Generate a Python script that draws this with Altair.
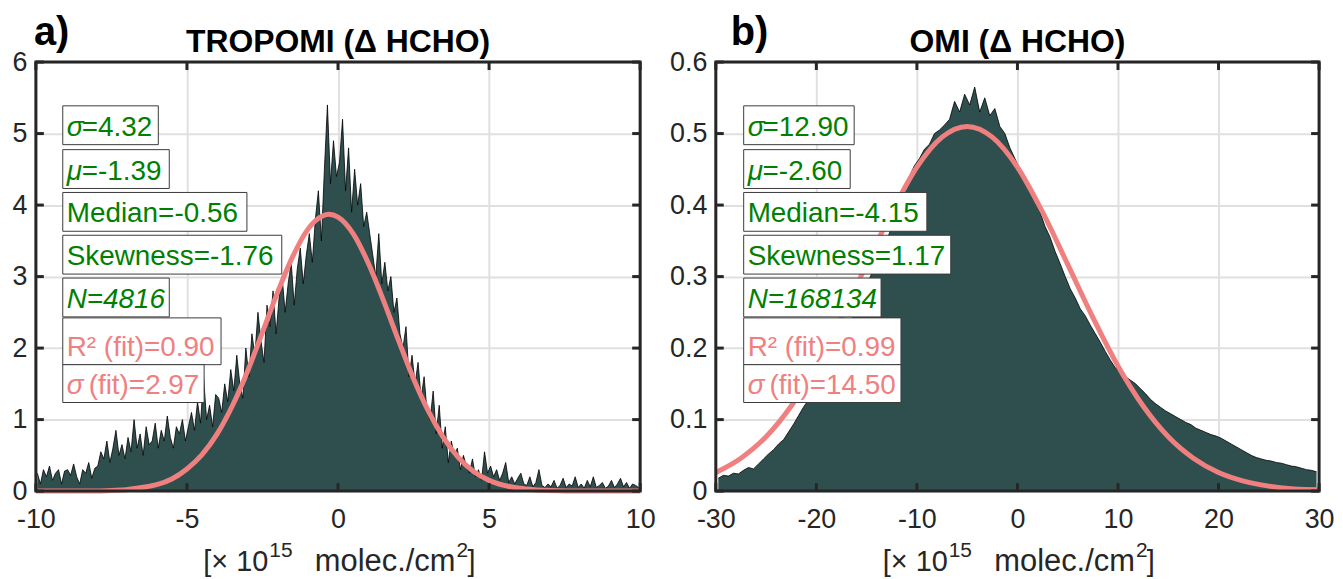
import altair as alt
import numpy as np
import pandas as pd

FONT = "Liberation Sans"
GREEN = "#008000"
PINK = "#F08080"
FILL = "#2F4F4F"
FRAME = "#262626"

W_A, W_B, H = 607, 606, 431

# ---------------- data ----------------
tropomi_bin_start = -10.0
tropomi_bin_width = 0.1
tropomi_counts = [
    0.25, 0.10, 0.30, 0.20, 0.35, 0.15, 0.25, 0.30, 0.10, 0.28,
    0.30, 0.22, 0.38, 0.20, 0.10, 0.30, 0.25, 0.40, 0.18, 0.32,
    0.35, 0.55, 0.45, 0.70, 0.40, 0.60, 0.85, 0.50, 0.65, 0.45,
    0.75, 0.55, 1.00, 0.60, 0.80, 0.50, 0.90, 0.65, 0.70, 0.95,
    0.60, 0.85, 0.70, 1.05, 0.75, 0.60, 0.90, 0.80, 1.00, 0.70,
    0.90, 1.10, 0.85, 1.25, 0.95, 1.60, 1.00, 1.20, 0.90, 1.35,
    1.30, 1.10, 1.50, 1.25, 1.70, 1.40, 1.90, 1.50, 1.30, 2.00,
    1.60, 2.20, 1.90, 2.50, 2.10, 1.80, 2.60, 2.30, 2.80, 2.20,
    2.70, 3.00, 2.50, 2.90, 3.20, 2.60, 3.10, 3.40, 2.90, 3.30,
    3.60, 3.20, 3.80, 4.20, 3.50, 4.50, 5.40, 4.30, 4.90, 4.40,
    4.60, 5.20, 4.20, 4.80, 3.90, 4.50, 4.00, 4.30, 3.70, 3.90,
    3.60, 3.30, 3.00, 3.60, 2.90, 3.20, 2.80, 3.00, 2.50, 2.70,
    2.20, 2.00, 2.30, 1.60, 1.90, 1.50, 1.80, 1.30, 1.60, 1.10,
    1.00, 1.40, 0.80, 1.20, 0.60, 0.90, 0.40, 0.70, 0.50, 0.60,
    0.30, 0.50, 0.35, 0.25, 0.45, 0.20, 0.30, 0.15, 0.55, 0.25,
    0.35, 0.20, 0.30, 0.15, 0.25, 0.40, 0.12, 0.20, 0.10, 0.18,
    0.25, 0.10, 0.08, 0.20, 0.06, 0.12, 0.30, 0.08, 0.05, 0.10,
    0.06, 0.15, 0.04, 0.08, 0.18, 0.05, 0.10, 0.07, 0.20, 0.05,
    0.10, 0.04, 0.15, 0.06, 0.20, 0.05, 0.08, 0.12, 0.04, 0.07,
    0.15, 0.05, 0.10, 0.18, 0.06, 0.12, 0.04, 0.10, 0.08, 0.05,
]
omi_bin_start = -30.0
omi_bin_width = 0.5
omi_counts = [
    0.018, 0.022, 0.021, 0.025, 0.024, 0.029, 0.033, 0.031, 0.038, 0.045,
    0.052, 0.058, 0.066, 0.072, 0.083, 0.094, 0.106, 0.118, 0.128, 0.142,
    0.152, 0.166, 0.178, 0.192, 0.204, 0.218, 0.232, 0.248, 0.262, 0.280,
    0.296, 0.312, 0.330, 0.345, 0.360, 0.380, 0.400, 0.425, 0.440, 0.455,
    0.465, 0.478, 0.485, 0.500, 0.505, 0.512, 0.520, 0.545, 0.530, 0.555,
    0.540, 0.565, 0.530, 0.550, 0.525, 0.535, 0.510, 0.500, 0.480, 0.465,
    0.450, 0.440, 0.425, 0.405, 0.390, 0.370, 0.355, 0.335, 0.318, 0.300,
    0.283, 0.270, 0.255, 0.245, 0.232, 0.220, 0.208, 0.195, 0.183, 0.172,
    0.168, 0.160, 0.155, 0.150, 0.143, 0.136, 0.128, 0.122, 0.117, 0.112,
    0.108, 0.104, 0.100, 0.096, 0.093, 0.088, 0.085, 0.082, 0.079, 0.077,
    0.074, 0.070, 0.066, 0.062, 0.058, 0.054, 0.050, 0.047, 0.045, 0.043,
    0.042, 0.040, 0.039, 0.037, 0.035, 0.034, 0.032, 0.030, 0.029, 0.027,
]
tropomi_fit_x = [-10, -9, -8, -7.5, -7, -6.5, -6, -5.5, -5, -4.5, -4, -3.5, -3, -2.5,
                 -2, -1.5, -1, -0.5, -0.3, 0, 0.5, 1, 1.5, 2, 2.5, 3, 3.5, 4, 4.5,
                 5, 5.5, 6, 6.5, 7, 8, 9, 10]
tropomi_fit_y = [0, 0, 0, 0.01, 0.02, 0.05, 0.09, 0.17, 0.31, 0.51, 0.80, 1.19, 1.67, 2.22,
                 2.78, 3.28, 3.66, 3.85, 3.87, 3.83, 3.60, 3.19, 2.67, 2.11, 1.57, 1.11, 0.74,
                 0.46, 0.27, 0.15, 0.08, 0.04, 0.02, 0.01, 0, 0, 0]
omi_fit_x = [-30, -27.5, -25, -22.5, -20, -17.5, -15, -12.5, -10, -7.5, -5, -2.5, 0,
             2.5, 5, 7.5, 10, 12.5, 15, 17.5, 20, 22.5, 25, 27.5, 30]
omi_fit_y = [0.026, 0.046, 0.076, 0.119, 0.175, 0.243, 0.317, 0.390, 0.453, 0.495, 0.510,
             0.495, 0.453, 0.390, 0.317, 0.243, 0.175, 0.119, 0.076, 0.046, 0.026, 0.014,
             0.007, 0.003, 0.002]

tropomi_xticks = [-10, -5, 0, 5, 10]
tropomi_yticks = [0, 1, 2, 3, 4, 5, 6]
omi_xticks = [-30, -20, -10, 0, 10, 20, 30]
omi_yticks = [0, 0.1, 0.2, 0.3, 0.4, 0.5, 0.6]

# stats text: (italic symbol, rest, all italic)
tropomi_stats = [("σ", "=4.32", False), ("μ", "=-1.39", False), ("", "Median=-0.56", False),
                 ("", "Skewness=-1.76", False), ("", "N=4816", True),
                 ("", "R² (fit)=0.90", False), ("σ", "(fit)=2.97", False)]
omi_stats = [("σ", "=12.90", False), ("μ", "=-2.60", False), ("", "Median=-4.15", False),
             ("", "Skewness=1.17", False), ("", "N=168134", True),
             ("", "R² (fit)=0.99", False), ("σ", "(fit)=14.50", False)]
stat_colors = [GREEN, GREEN, GREEN, GREEN, GREEN, PINK, PINK]

# box layout in pixels relative to the plot area: (x0, x1, y0, y1)
tropomi_boxes = [(27, 123, 44, 83), (27, 134, 88, 127), (27, 212, 131, 170),
                 (27, 247, 174, 213), (27, 134, 217, 256), (27, 186, 257, 304),
                 (27, 169, 304, 342)]
omi_boxes = [(28, 139, 44, 83), (28, 135, 88, 127), (28, 212, 131, 170),
             (28, 236, 174, 213), (28, 166, 217, 256), (28, 186, 257, 304),
             (28, 186, 304, 342)]


def panel(letter, title, counts, start, bw, fit_x, fit_y, xticks, yticks,
          xdom, ydom, W, stats, boxes, letter_dx):
    xs = alt.Scale(domain=xdom, nice=False, zero=False)
    ys = alt.Scale(domain=ydom, nice=False, zero=False)

    def px2x(p):
        return xdom[0] + p * (xdom[1] - xdom[0]) / W

    def py2y(p):
        return ydom[1] - p * (ydom[1] - ydom[0]) / H

    centers = start + bw * (np.arange(len(counts)) + 0.5)
    hist_df = pd.DataFrame({"x": centers, "c": counts})
    fit_df = pd.DataFrame({"x": fit_x, "y": fit_y})

    axis_x = alt.Axis(values=xticks, labelExpr="'' + datum.value", grid=True,
                      gridColor="#e0e0e0", gridWidth=2, ticks=False, tickSize=0,
                      domain=False, labelFontSize=27, labelFont=FONT, labelColor=FRAME,
                      labelPadding=16, labelOverlap=False, labelFlush=False, title=None)
    axis_y = alt.Axis(values=yticks, labelExpr="'' + datum.value", grid=True,
                      gridColor="#e0e0e0", gridWidth=2, ticks=False, tickSize=0,
                      domain=False, labelFontSize=27, labelFont=FONT, labelColor=FRAME,
                      labelPadding=9, labelOverlap=False, title=None)

    def X(f):
        return alt.X(f, scale=xs, axis=axis_x)

    def Y(f):
        return alt.Y(f, scale=ys, axis=axis_y)

    hist = alt.Chart(hist_df).mark_area(
        color=FILL, opacity=1, clip=True, line={"color": "black", "strokeWidth": 0.8}
    ).encode(x=X("x:Q"), y=Y("c:Q"))

    curve = alt.Chart(fit_df).mark_line(color=PINK, strokeWidth=5, interpolate="monotone").encode(
        x=X("x:Q"), y=Y("y:Q"))

    frame = alt.Chart(pd.DataFrame({"f": [0]})).mark_rect(
        fill=None, stroke=FRAME, strokeWidth=3
    ).encode(x=alt.value(0), x2=alt.value(W), y=alt.value(0), y2=alt.value(H))

    xt_df = pd.DataFrame({"v": xticks})
    yt_df = pd.DataFrame({"v": yticks})
    tick_style = dict(color=FRAME, strokeWidth=3)
    tb = alt.Chart(xt_df).mark_rule(**tick_style).encode(
        x=X("v:Q"), y=alt.value(H), y2=alt.value(H - 8))
    tt = alt.Chart(xt_df).mark_rule(**tick_style).encode(
        x=X("v:Q"), y=alt.value(0), y2=alt.value(8))
    tl = alt.Chart(yt_df).mark_rule(**tick_style).encode(
        y=Y("v:Q"), x=alt.value(0), x2=alt.value(8))
    tr = alt.Chart(yt_df).mark_rule(**tick_style).encode(
        y=Y("v:Q"), x=alt.value(W), x2=alt.value(W - 8))

    layers = [hist, curve, frame, tb, tt, tl, tr]

    for (sym, rest, allit), col, (bx0, bx1, by0, by1) in zip(stats, stat_colors, boxes):
        bdf = pd.DataFrame({"x0": [px2x(bx0)], "x1": [px2x(bx1)],
                            "y0": [py2y(by0)], "y1": [py2y(by1)]})
        layers.append(alt.Chart(bdf).mark_rect(fill="white", stroke="#3a3a3a", strokeWidth=1).encode(
            x=X("x0:Q"), x2="x1:Q", y=Y("y0:Q"), y2="y1:Q"))
        base_y = py2y(by1 - 9)
        if sym:
            sdf = pd.DataFrame({"x": [px2x(bx0 + 4)], "y": [base_y], "t": [sym]})
            layers.append(alt.Chart(sdf).mark_text(
                align="left", baseline="alphabetic", font=FONT, fontSize=28,
                fontStyle="italic", color=col).encode(x=X("x:Q"), y=Y("y:Q"), text="t:N"))
            rx = bx0 + 19 if rest.startswith("=") else bx0 + 26
        else:
            rx = bx0 + 4
        rdf = pd.DataFrame({"x": [px2x(rx)], "y": [base_y], "t": [rest]})
        layers.append(alt.Chart(rdf).mark_text(
            align="left", baseline="alphabetic", font=FONT, fontSize=28,
            fontStyle="italic" if allit else "normal", color=col).encode(
            x=X("x:Q"), y=Y("y:Q"), text="t:N"))

    # panel letter and title
    layers.append(alt.Chart(pd.DataFrame({"t": [letter]})).mark_text(
        align="left", baseline="alphabetic", font=FONT, fontSize=40, fontWeight="bold",
        color="black").encode(x=alt.value(letter_dx), y=alt.value(-17), text="t:N"))
    layers.append(alt.Chart(pd.DataFrame({"t": [title]})).mark_text(
        align="center", baseline="alphabetic", font=FONT, fontSize=32, fontWeight="bold",
        color="black").encode(x=alt.value(W / 2), y=alt.value(-10), text="t:N"))

    # x-axis title in pieces (with superscripts)
    c = W / 2
    pieces = [("[× 10", c - 70, "right", 29, 511), ("15", c - 69, "left", 21, 497),
              ("molec./cm", c + 118, "right", 31, 511), ("2", c + 119, "left", 21, 497),
              ("]", c + 130, "left", 29, 511)]
    for txt, px, al, fs, py in pieces:
        layers.append(alt.Chart(pd.DataFrame({"t": [txt]})).mark_text(
            align=al, baseline="alphabetic", font=FONT, fontSize=fs, color=FRAME).encode(
            x=alt.value(px), y=alt.value(py), text="t:N"))

    return alt.layer(*layers).properties(width=W, height=H)


left = panel("a)", "TROPOMI (Δ HCHO)", tropomi_counts, tropomi_bin_start, tropomi_bin_width,
             tropomi_fit_x, tropomi_fit_y, tropomi_xticks, tropomi_yticks,
             [-10, 10], [0, 6], W_A, tropomi_stats, tropomi_boxes, -2)
right = panel("b)", "OMI (Δ HCHO)", omi_counts, omi_bin_start, omi_bin_width,
              omi_fit_x, omi_fit_y, omi_xticks, omi_yticks,
              [-30, 30], [0, 0.6], W_B, omi_stats, omi_boxes, 15)

chart = alt.hconcat(left, right, spacing=13).properties(
    padding={"left": 3, "top": 4, "right": 0, "bottom": 0}
).configure_view(strokeWidth=0)

chart.save("out.html", embed_options={"renderer": "svg", "actions": False})
